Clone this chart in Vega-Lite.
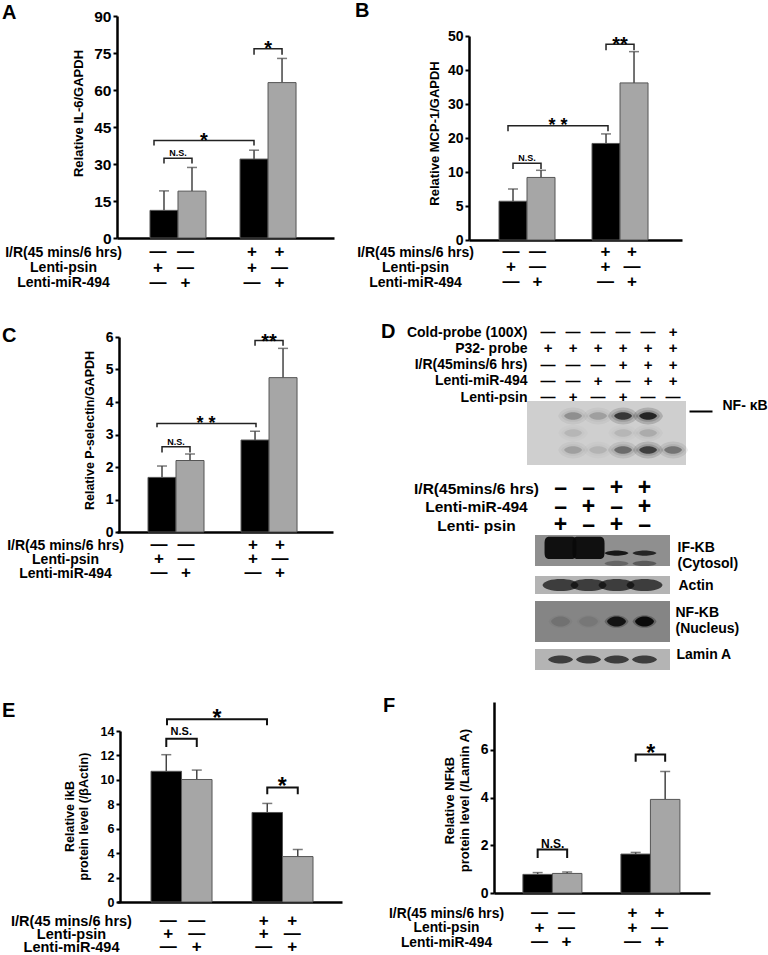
{"$schema":"https://vega.github.io/schema/vega-lite/v6.json","background":"white","padding":{"left":2,"top":0,"right":0,"bottom":0},"spacing":25,
"resolve":{"scale":{"xOffset":"independent","size":"independent","opacity":"independent","fillOpacity":"independent"}},
"config":{"view":{"stroke":null},"font":"Liberation Sans","axis":{"grid":false,"labelOverlap":false,"labelFont":"Liberation Sans","titleFont":"Liberation Sans","labelFontWeight":"bold","titleFontWeight":"bold","labelColor":"#000","titleColor":"#000","domainColor":"#000","tickColor":"#000"},"text":{"font":"Liberation Sans","fontWeight":"bold","color":"#000"},"title":{"font":"Liberation Sans","fontWeight":"bold","fontSize":20,"anchor":"start","frame":"group","offset":0,"color":"#000"}},
"datasets":{"signs":[
{"group":"no I/R","arm":"psin","row":"I/R(45 mins/6 hrs)","sign":"—"},{"group":"no I/R","arm":"psin","row":"Lenti-psin","sign":"+"},{"group":"no I/R","arm":"psin","row":"Lenti-miR-494","sign":"—"},
{"group":"no I/R","arm":"miR","row":"I/R(45 mins/6 hrs)","sign":"—"},{"group":"no I/R","arm":"miR","row":"Lenti-psin","sign":"—"},{"group":"no I/R","arm":"miR","row":"Lenti-miR-494","sign":"+"},
{"group":"I/R","arm":"psin","row":"I/R(45 mins/6 hrs)","sign":"+"},{"group":"I/R","arm":"psin","row":"Lenti-psin","sign":"+"},{"group":"I/R","arm":"psin","row":"Lenti-miR-494","sign":"—"},
{"group":"I/R","arm":"miR","row":"I/R(45 mins/6 hrs)","sign":"+"},{"group":"I/R","arm":"miR","row":"Lenti-psin","sign":"—"},{"group":"I/R","arm":"miR","row":"Lenti-miR-494","sign":"+"}]},
"vconcat":[
{"spacing":21,"resolve":{"scale":{"xOffset":"independent","size":"independent","opacity":"independent","fillOpacity":"independent"}},"hconcat":[
{"bounds":"flush","spacing":6.5,"resolve":{"scale":{"xOffset":"independent","size":"independent"}},"vconcat":[
{"width":217,"height":236,"title":{"text":"A","dx":-115,"dy":24.5},
"layer":[
{"encoding":{"x":{"field":"group","type":"nominal","scale":{"type":"band","domain":["no I/R","I/R"],"paddingInner":0.378,"paddingOuter":0.394,"align":0.465},"axis":{"labels":false,"ticks":false,"title":null,"domainWidth":2.5}},"xOffset":{"field":"arm","type":"nominal","scale":{"type":"band","domain":["psin","miR"],"paddingInner":0,"paddingOuter":0}}},
"layer":[
{"data":{"values":[{"group":"no I/R","arm":"psin","mean":11.2,"upper":19.1},{"group":"no I/R","arm":"miR","mean":19,"upper":28.6},{"group":"I/R","arm":"psin","mean":32,"upper":35.6},{"group":"I/R","arm":"miR","mean":63,"upper":72.8}]},
"layer":[
{"mark":{"type":"rule","color":"#444","strokeWidth":1.5},"encoding":{"y":{"field":"mean","type":"quantitative","scale":{"domain":[0,90],"range":[236,14]},"axis":{"values":[0,15,30,45,60,75,90],"tickCount":20,"format":"d","title":"Relative IL-6/GAPDH","titleFontSize":13,"titleX":-39,"titleY":111,"titleBaseline":"middle","labelFontSize":15.5,"domainWidth":2.5,"tickWidth":2,"tickSize":4,"labelPadding":2}},"y2":{"field":"upper"}}},
{"mark":{"type":"tick","orient":"horizontal","size":10,"thickness":1.5,"color":"#444"},"encoding":{"y":{"field":"upper","type":"quantitative"}}},
{"mark":{"type":"bar","stroke":"#555","strokeWidth":1},"encoding":{"y":{"field":"mean","type":"quantitative","stack":null},"color":{"field":"arm","type":"nominal","scale":{"domain":["psin","miR"],"range":["#000","#a6a6a6"]},"legend":null}}}]},
{"data":{"values":[{"id":"ns","group":"no I/R","arm":"psin","level":30.2,"step":1},{"id":"ns","group":"no I/R","arm":"psin","level":32.3,"step":2},{"id":"ns","group":"no I/R","arm":"miR","level":32.3,"step":3},{"id":"ns","group":"no I/R","arm":"miR","level":30.2,"step":4},{"id":"r","group":"I/R","arm":"psin","level":74.3,"step":1},{"id":"r","group":"I/R","arm":"psin","level":76.7,"step":2},{"id":"r","group":"I/R","arm":"miR","level":76.7,"step":3},{"id":"r","group":"I/R","arm":"miR","level":74.3,"step":4}]},
"mark":{"type":"line","color":"#222","strokeWidth":1.5},"encoding":{"y":{"field":"level","type":"quantitative"},"detail":{"field":"id"},"order":{"field":"step","type":"quantitative"}}},
{"data":{"values":[{"group":"no I/R","arm":"psin","level":34.5,"label":"N.S."},{"group":"I/R","arm":"psin","level":76.6,"label":"*"}]},
"mark":{"type":"text","dx":14,"baseline":"middle"},"encoding":{"y":{"field":"level","type":"quantitative"},"text":{"field":"label"},"size":{"field":"label","type":"ordinal","scale":{"type":"point","padding":0,"domain":["N.S.","*"],"range":[9,20]},"legend":null}}}]},
{"encoding":{"x":{"field":"group","type":"nominal","scale":{"type":"point","domain":["no I/R","I/R"],"padding":0,"range":[37,137]},"axis":null}},"layer":[
{"data":{"values":[{"group":"no I/R","level":37.5,"step":1},{"group":"no I/R","level":39.5,"step":2},{"group":"I/R","level":39.5,"step":3},{"group":"I/R","level":37.5,"step":4}]},"mark":{"type":"line","color":"#222","strokeWidth":1.5},"encoding":{"y":{"field":"level","type":"quantitative"},"order":{"field":"step","type":"quantitative"}}},
{"data":{"values":[{"group":"I/R","level":39.5,"label":"*"}]},"mark":{"type":"text","dx":-50,"fontSize":20,"baseline":"middle"},"encoding":{"y":{"field":"level","type":"quantitative"},"text":{"field":"label"}}}]}],
"resolve":{"scale":{"x":"independent"}}},
{"width":217,"height":46,"data":{"name":"signs"},"mark":{"type":"text","fontSize":17,"baseline":"middle"},"encoding":{"x":{"field":"group","type":"nominal","scale":{"type":"band","domain":["no I/R","I/R"],"paddingInner":0.415,"paddingOuter":0.362,"align":0.4},"axis":null},"xOffset":{"field":"arm","type":"nominal","scale":{"type":"band","domain":["psin","miR"],"paddingInner":0,"paddingOuter":0}},"y":{"field":"row","type":"nominal","scale":{"domain":["I/R(45 mins/6 hrs)","Lenti-psin","Lenti-miR-494"]},"axis":{"title":null,"domain":false,"ticks":false,"labelAlign":"center","labelPadding":54,"labelFontSize":14}},"text":{"field":"sign"}}}
]},
{"bounds":"flush","spacing":4.5,"resolve":{"scale":{"xOffset":"independent","size":"independent"}},"vconcat":[
{"width":213,"height":238,"title":{"text":"B","dx":-114,"dy":22.5},
"layer":[
{"encoding":{"x":{"field":"group","type":"nominal","scale":{"type":"band","domain":["no I/R","I/R"],"paddingInner":0.398,"paddingOuter":0.344,"align":0.469},"axis":{"labels":false,"ticks":false,"title":null,"domainWidth":2.5}},"xOffset":{"field":"arm","type":"nominal","scale":{"type":"band","domain":["psin","miR"],"paddingInner":0,"paddingOuter":0}}},
"layer":[
{"data":{"values":[{"group":"no I/R","arm":"psin","mean":5.7,"upper":7.5},{"group":"no I/R","arm":"miR","mean":9.2,"upper":10.5},{"group":"I/R","arm":"psin","mean":18.4,"upper":21.2},{"group":"I/R","arm":"miR","mean":36.2,"upper":45.4}]},
"layer":[
{"mark":{"type":"rule","color":"#444","strokeWidth":1.5},"encoding":{"y":{"field":"mean","type":"quantitative","scale":{"domain":[0,5,10,20,30,40,50],"range":[238,204,170,136,102,68,34]},"axis":{"values":[0,5,10,20,30,40,50],"tickCount":20,"format":"d","title":"Relative MCP-1/GAPDH","titleFontSize":13,"titleX":-35,"titleY":131,"titleBaseline":"middle","labelFontSize":14,"domainWidth":2.5,"tickWidth":2,"tickSize":4,"labelPadding":2}},"y2":{"field":"upper"}}},
{"mark":{"type":"tick","orient":"horizontal","size":10,"thickness":1.5,"color":"#444"},"encoding":{"y":{"field":"upper","type":"quantitative"}}},
{"mark":{"type":"bar","stroke":"#555","strokeWidth":1},"encoding":{"y":{"field":"mean","type":"quantitative","stack":null},"color":{"field":"arm","type":"nominal","scale":{"domain":["psin","miR"],"range":["#000","#a6a6a6"]},"legend":null}}}]},
{"data":{"values":[{"id":"ns","group":"no I/R","arm":"psin","level":10.9,"step":1},{"id":"ns","group":"no I/R","arm":"psin","level":12.6,"step":2},{"id":"ns","group":"no I/R","arm":"miR","level":12.6,"step":3},{"id":"ns","group":"no I/R","arm":"miR","level":10.9,"step":4},{"id":"r","group":"I/R","arm":"psin","level":45.8,"step":1},{"id":"r","group":"I/R","arm":"psin","level":47.6,"step":2},{"id":"r","group":"I/R","arm":"miR","level":47.6,"step":3},{"id":"r","group":"I/R","arm":"miR","level":45.8,"step":4}]},
"mark":{"type":"line","color":"#222","strokeWidth":1.5},"encoding":{"y":{"field":"level","type":"quantitative"},"detail":{"field":"id"},"order":{"field":"step","type":"quantitative"}}},
{"data":{"values":[{"group":"no I/R","arm":"psin","level":14.1,"label":"N.S."},{"group":"I/R","arm":"psin","level":47.5,"label":"**"}]},
"mark":{"type":"text","dx":14,"baseline":"middle"},"encoding":{"y":{"field":"level","type":"quantitative"},"text":{"field":"label"},"size":{"field":"label","type":"ordinal","scale":{"type":"point","padding":0,"domain":["N.S.","**"],"range":[9,20]},"legend":null}}}]},
{"encoding":{"x":{"field":"group","type":"nominal","scale":{"type":"point","domain":["no I/R","I/R"],"padding":0,"range":[39,139]},"axis":null}},"layer":[
{"data":{"values":[{"group":"no I/R","level":22,"step":1},{"group":"no I/R","level":23.6,"step":2},{"group":"I/R","level":23.6,"step":3},{"group":"I/R","level":22,"step":4}]},"mark":{"type":"line","color":"#222","strokeWidth":1.5},"encoding":{"y":{"field":"level","type":"quantitative"},"order":{"field":"step","type":"quantitative"}}},
{"data":{"values":[{"group":"I/R","level":23.5,"label":"* *"}]},"mark":{"type":"text","dx":-50,"fontSize":18,"baseline":"middle"},"encoding":{"y":{"field":"level","type":"quantitative"},"text":{"field":"label"}}}]}],
"resolve":{"scale":{"x":"independent"}}},
{"width":213,"height":45,"data":{"name":"signs"},"mark":{"type":"text","fontSize":17,"baseline":"middle"},"encoding":{"x":{"field":"group","type":"nominal","scale":{"type":"band","domain":["no I/R","I/R"],"paddingInner":0.439,"paddingOuter":0.347,"align":0.439},"axis":null},"xOffset":{"field":"arm","type":"nominal","scale":{"type":"band","domain":["psin","miR"],"paddingInner":0,"paddingOuter":0}},"y":{"field":"row","type":"nominal","scale":{"domain":["I/R(45 mins/6 hrs)","Lenti-psin","Lenti-miR-494"]},"axis":{"title":null,"domain":false,"ticks":false,"labelAlign":"center","labelPadding":54,"labelFontSize":14}},"text":{"field":"sign"}}}
]}
]},
{"spacing":48,"resolve":{"scale":{"xOffset":"independent","size":"independent","opacity":"independent","fillOpacity":"independent"}},"hconcat":[
{"bounds":"flush","spacing":6,"resolve":{"scale":{"xOffset":"independent","size":"independent"}},"vconcat":[
{"width":216,"height":216,"title":{"text":"C","dx":-115,"dy":33.5},
"layer":[
{"encoding":{"x":{"field":"group","type":"nominal","scale":{"type":"band","domain":["no I/R","I/R"],"paddingInner":0.398,"paddingOuter":0.36,"align":0.463},"axis":{"labels":false,"ticks":false,"title":null,"domainWidth":2.5}},"xOffset":{"field":"arm","type":"nominal","scale":{"type":"band","domain":["psin","miR"],"paddingInner":0,"paddingOuter":0}}},
"layer":[
{"data":{"values":[{"group":"no I/R","arm":"psin","mean":1.68,"upper":2.03},{"group":"no I/R","arm":"miR","mean":2.2,"upper":2.4},{"group":"I/R","arm":"psin","mean":2.83,"upper":3.1},{"group":"I/R","arm":"miR","mean":4.75,"upper":5.65}]},
"layer":[
{"mark":{"type":"rule","color":"#444","strokeWidth":1.5},"encoding":{"y":{"field":"mean","type":"quantitative","scale":{"domain":[0,6],"range":[216,21]},"axis":{"values":[0,1,2,3,4,5,6],"tickCount":20,"format":"d","offset":-2,"title":"Relative P-selectin/GAPDH","titleFontSize":12.5,"titleX":-30,"titleY":114,"titleBaseline":"middle","labelFontSize":14,"domainWidth":2.5,"tickWidth":2,"tickSize":4,"labelPadding":2}},"y2":{"field":"upper"}}},
{"mark":{"type":"tick","orient":"horizontal","size":10,"thickness":1.5,"color":"#444"},"encoding":{"y":{"field":"upper","type":"quantitative"}}},
{"mark":{"type":"bar","stroke":"#555","strokeWidth":1},"encoding":{"y":{"field":"mean","type":"quantitative","stack":null},"color":{"field":"arm","type":"nominal","scale":{"domain":["psin","miR"],"range":["#000","#a6a6a6"]},"legend":null}}}]},
{"data":{"values":[{"id":"ns","group":"no I/R","arm":"psin","level":2.45,"step":1},{"id":"ns","group":"no I/R","arm":"psin","level":2.62,"step":2},{"id":"ns","group":"no I/R","arm":"miR","level":2.62,"step":3},{"id":"ns","group":"no I/R","arm":"miR","level":2.45,"step":4},{"id":"r","group":"I/R","arm":"psin","level":5.73,"step":1},{"id":"r","group":"I/R","arm":"psin","level":5.89,"step":2},{"id":"r","group":"I/R","arm":"miR","level":5.89,"step":3},{"id":"r","group":"I/R","arm":"miR","level":5.73,"step":4}]},
"mark":{"type":"line","color":"#222","strokeWidth":1.5},"encoding":{"y":{"field":"level","type":"quantitative"},"detail":{"field":"id"},"order":{"field":"step","type":"quantitative"}}},
{"data":{"values":[{"group":"no I/R","arm":"psin","level":2.76,"label":"N.S."},{"group":"I/R","arm":"psin","level":5.85,"label":"**"}]},
"mark":{"type":"text","dx":14,"baseline":"middle"},"encoding":{"y":{"field":"level","type":"quantitative"},"text":{"field":"label"},"size":{"field":"label","type":"ordinal","scale":{"type":"point","padding":0,"domain":["N.S.","**"],"range":[9,20]},"legend":null}}}]},
{"encoding":{"x":{"field":"group","type":"nominal","scale":{"type":"point","domain":["no I/R","I/R"],"padding":0,"range":[40,139]},"axis":null}},"layer":[
{"data":{"values":[{"group":"no I/R","level":3.22,"step":1},{"group":"no I/R","level":3.34,"step":2},{"group":"I/R","level":3.34,"step":3},{"group":"I/R","level":3.22,"step":4}]},"mark":{"type":"line","color":"#222","strokeWidth":1.5},"encoding":{"y":{"field":"level","type":"quantitative"},"order":{"field":"step","type":"quantitative"}}},
{"data":{"values":[{"group":"I/R","level":3.32,"label":"* *"}]},"mark":{"type":"text","dx":-50,"fontSize":18,"baseline":"middle"},"encoding":{"y":{"field":"level","type":"quantitative"},"text":{"field":"label"}}}]}],
"resolve":{"scale":{"x":"independent"}}},
{"width":216,"height":42,"data":{"name":"signs"},"mark":{"type":"text","fontSize":17,"baseline":"middle"},"encoding":{"x":{"field":"group","type":"nominal","scale":{"type":"band","domain":["no I/R","I/R"],"paddingInner":0.426,"paddingOuter":0.362,"align":0.419},"axis":null},"xOffset":{"field":"arm","type":"nominal","scale":{"type":"band","domain":["psin","miR"],"paddingInner":0,"paddingOuter":0}},"y":{"field":"row","type":"nominal","scale":{"domain":["I/R(45 mins/6 hrs)","Lenti-psin","Lenti-miR-494"]},"axis":{"title":null,"domain":false,"ticks":false,"labelAlign":"center","labelPadding":52,"labelFontSize":14}},"text":{"field":"sign"}}}
]},
{"bounds":"flush","spacing":3,"resolve":{"scale":{"opacity":"independent","fillOpacity":"independent"}},"vconcat":[
{"width":159,"height":82,"title":{"text":"D","dx":-146,"dy":29.5},"data":{"values":[
{"lane":1,"row":"Cold-probe (100X)","sign":"—"},{"lane":2,"row":"Cold-probe (100X)","sign":"—"},{"lane":3,"row":"Cold-probe (100X)","sign":"—"},{"lane":4,"row":"Cold-probe (100X)","sign":"—"},{"lane":5,"row":"Cold-probe (100X)","sign":"—"},{"lane":6,"row":"Cold-probe (100X)","sign":"+"},
{"lane":1,"row":"P32- probe","sign":"+"},{"lane":2,"row":"P32- probe","sign":"+"},{"lane":3,"row":"P32- probe","sign":"+"},{"lane":4,"row":"P32- probe","sign":"+"},{"lane":5,"row":"P32- probe","sign":"+"},{"lane":6,"row":"P32- probe","sign":"+"},
{"lane":1,"row":"I/R(45mins/6 hrs)","sign":"—"},{"lane":2,"row":"I/R(45mins/6 hrs)","sign":"—"},{"lane":3,"row":"I/R(45mins/6 hrs)","sign":"—"},{"lane":4,"row":"I/R(45mins/6 hrs)","sign":"+"},{"lane":5,"row":"I/R(45mins/6 hrs)","sign":"+"},{"lane":6,"row":"I/R(45mins/6 hrs)","sign":"+"},
{"lane":1,"row":"Lenti-miR-494","sign":"—"},{"lane":2,"row":"Lenti-miR-494","sign":"—"},{"lane":3,"row":"Lenti-miR-494","sign":"+"},{"lane":4,"row":"Lenti-miR-494","sign":"—"},{"lane":5,"row":"Lenti-miR-494","sign":"+"},{"lane":6,"row":"Lenti-miR-494","sign":"+"},
{"lane":1,"row":"Lenti-psin","sign":"—"},{"lane":2,"row":"Lenti-psin","sign":"+"},{"lane":3,"row":"Lenti-psin","sign":"—"},{"lane":4,"row":"Lenti-psin","sign":"+"},{"lane":5,"row":"Lenti-psin","sign":"—"},{"lane":6,"row":"Lenti-psin","sign":"—"}]},
"mark":{"type":"text","fontSize":15,"baseline":"middle"},"encoding":{"x":{"field":"lane","type":"ordinal","scale":{"type":"band","domain":[1,2,3,4,5,6],"paddingOuter":0.18,"paddingInner":0,"align":0.95},"axis":null},"y":{"field":"row","type":"nominal","scale":{"type":"point","padding":0,"domain":["Cold-probe (100X)","P32- probe","I/R(45mins/6 hrs)","Lenti-miR-494","Lenti-psin"],"range":[16,81]},"axis":{"title":null,"domain":false,"ticks":false,"labelPadding":0,"labelFontSize":14,"tickCount":20}},"text":{"field":"sign"}}},
{"width":159,"height":64,
"layer":[
{"data":{"values":[{"from":0,"to":1}]},"mark":{"type":"rect","color":"#cfcfcf"},"encoding":{"x":{"field":"from","type":"quantitative","scale":{"domain":[0,1],"range":[0,159]},"axis":null},"x2":{"field":"to"}}},
{"data":{"values":[{"lane":2,"row":"upper","strength":0.3},{"lane":3,"row":"upper","strength":0.22},{"lane":4,"row":"upper","strength":0.85},{"lane":5,"row":"upper","strength":1},{"lane":2,"row":"mid","strength":0.1},{"lane":4,"row":"mid","strength":0.1},{"lane":5,"row":"mid","strength":0.15},{"lane":2,"row":"lower","strength":0.22},{"lane":3,"row":"lower","strength":0.12},{"lane":4,"row":"lower","strength":0.5},{"lane":5,"row":"lower","strength":0.8},{"lane":6,"row":"lower","strength":0.45}]},
"encoding":{"x":{"field":"lane","type":"ordinal","scale":{"type":"band","domain":[1,2,3,4,5,6],"paddingOuter":0.18,"paddingInner":0,"align":0.95},"axis":null},"y":{"field":"row","type":"nominal","scale":{"type":"band","domain":["upper","mid","lower"],"paddingInner":0,"paddingOuter":0.38},"axis":{"values":["upper"],"title":null,"domain":false,"tickSize":23,"tickWidth":2,"tickOffset":-5,"labelOffset":-5,"offset":3,"orient":"right","labelExpr":"'NF- κB'","labelPadding":10,"labelFontSize":14}}},
"layer":[
{"mark":{"type":"point","filled":true,"color":"#111","strokeWidth":0,"size":900,"shape":"M-1,0C-.7,-.75 .7,-.75 1,0C.7,.75 -.7,.75 -1,0Z"},"encoding":{"fillOpacity":{"field":"strength","type":"quantitative","scale":{"domain":[0,1],"range":[0,0.25]},"legend":null}}},
{"mark":{"type":"point","filled":true,"color":"#111","strokeWidth":0,"size":576,"shape":"M-1,0C-.7,-.65 .7,-.65 1,0C.7,.65 -.7,.65 -1,0Z"},"encoding":{"fillOpacity":{"field":"strength","type":"quantitative","scale":{"domain":[0,1],"range":[0,0.25]},"legend":null}}},
{"mark":{"type":"point","filled":true,"color":"#111","strokeWidth":0,"size":324,"shape":"M-1,0C-.7,-.55 .7,-.55 1,0C.7,.55 -.7,.55 -1,0Z"},"encoding":{"opacity":{"field":"strength","type":"quantitative","scale":{"domain":[0,1],"range":[0,0.85]},"legend":null}}}]}],
"resolve":{"scale":{"x":"independent"}}},
{"width":143,"height":64,"data":{"values":[
{"lane":1,"row":"I/R(45mins/6 hrs)","sign":"–"},{"lane":2,"row":"I/R(45mins/6 hrs)","sign":"–"},{"lane":3,"row":"I/R(45mins/6 hrs)","sign":"+"},{"lane":4,"row":"I/R(45mins/6 hrs)","sign":"+"},
{"lane":1,"row":"Lenti-miR-494","sign":"–"},{"lane":2,"row":"Lenti-miR-494","sign":"+"},{"lane":3,"row":"Lenti-miR-494","sign":"–"},{"lane":4,"row":"Lenti-miR-494","sign":"+"},
{"lane":1,"row":"Lenti- psin","sign":"+"},{"lane":2,"row":"Lenti- psin","sign":"–"},{"lane":3,"row":"Lenti- psin","sign":"+"},{"lane":4,"row":"Lenti- psin","sign":"–"}]},
"mark":{"type":"text","fontSize":23,"baseline":"middle"},"encoding":{"x":{"field":"lane","type":"ordinal","scale":{"type":"band","domain":[1,2,3,4],"paddingOuter":0.554,"paddingInner":0,"align":0.63},"axis":null},"y":{"field":"row","type":"nominal","scale":{"type":"point","padding":0,"domain":["I/R(45mins/6 hrs)","Lenti-miR-494","Lenti- psin"],"range":[20,57]},"axis":{"title":null,"domain":false,"ticks":false,"labelAlign":"center","labelPadding":51,"labelFontSize":15.5}},"text":{"field":"sign"}}},
{"width":143,"height":31,
"layer":[
{"data":{"values":[{"from":0,"to":1}]},"mark":{"type":"rect","color":"#8f8f8f"},"encoding":{"x":{"field":"from","type":"quantitative","scale":{"domain":[0,1],"range":[8,143]},"axis":null},"x2":{"field":"to"}}},
{"encoding":{"x":{"field":"lane","type":"ordinal","scale":{"type":"band","domain":[1,2,3,4],"paddingOuter":0.554,"paddingInner":0,"align":0.63},"axis":null},"y":{"field":"row","type":"nominal","scale":{"type":"band","domain":["r1","r2","r3","r4","r5","r6"],"paddingInner":0,"paddingOuter":0},"axis":{"orient":"right","title":["IF-KB","(Cytosol)"],"titleAngle":0,"titleAlign":"left","titleBaseline":"middle","titleX":7,"titleY":12,"titleFontSize":14,"labels":false,"ticks":false,"domain":false}}},
"layer":[
{"data":{"values":[{"lane":1,"row":"r3","strength":1},{"lane":2,"row":"r3","strength":1}]},"mark":{"type":"point","filled":true,"color":"#0a0a0a","strokeWidth":0,"size":1024,"shape":"M-1,-.3C-1,-.7 -.8,-.7 -.6,-.7L.6,-.7C.8,-.7 1,-.7 1,-.3L1,.3C1,.7 .8,.7 .6,.7L-.6,.7C-.8,.7 -1,.7 -1,.3Z","opacity":0.95}},
{"data":{"values":[{"lane":3,"row":"r4","strength":0.9},{"lane":4,"row":"r4","strength":0.8},{"lane":3,"row":"r6","strength":0.3},{"lane":4,"row":"r6","strength":0.4}]},"mark":{"type":"point","filled":true,"color":"#0a0a0a","strokeWidth":0,"size":576,"shape":"M-1,0C-.7,-.3 .7,-.3 1,0C.7,.3 -.7,.3 -1,0Z"},"encoding":{"opacity":{"field":"strength","type":"quantitative","scale":{"domain":[0,1],"range":[0,1]},"legend":null}}}]}],
"resolve":{"scale":{"x":"independent"}}},
{"width":10,"height":4,"data":{"values":[]},"mark":{"type":"text"},"encoding":{}},
{"width":143,"height":18,
"layer":[
{"data":{"values":[{"from":0,"to":1}]},"mark":{"type":"rect","color":"#b4b4b4"},"encoding":{"x":{"field":"from","type":"quantitative","scale":{"domain":[0,1],"range":[8,143]},"axis":null},"x2":{"field":"to"}}},
{"data":{"values":[{"lane":1,"row":"band"},{"lane":2,"row":"band"},{"lane":3,"row":"band"},{"lane":4,"row":"band"}]},"mark":{"type":"point","filled":true,"color":"#0a0a0a","strokeWidth":0,"size":1300,"shape":"M-1,0C-.9,-.45 .9,-.45 1,0C.9,.45 -.9,.45 -1,0Z"},"encoding":{"x":{"field":"lane","type":"ordinal","scale":{"type":"band","domain":[1,2,3,4],"paddingOuter":0.554,"paddingInner":0,"align":0.63},"axis":null},"y":{"field":"row","type":"nominal","scale":{"type":"band","domain":["band"]},"axis":{"orient":"right","title":"Actin","titleAngle":0,"titleAlign":"left","titleBaseline":"middle","titleX":8,"titleY":9,"titleFontSize":14,"labels":false,"ticks":false,"domain":false}}}}],
"resolve":{"scale":{"x":"independent"}}},
{"width":10,"height":1,"data":{"values":[]},"mark":{"type":"text"},"encoding":{}},
{"width":143,"height":41,
"layer":[
{"data":{"values":[{"from":0,"to":1}]},"mark":{"type":"rect","color":"#858585"},"encoding":{"x":{"field":"from","type":"quantitative","scale":{"domain":[0,1],"range":[8,143]},"axis":null},"x2":{"field":"to"}}},
{"data":{"values":[{"lane":1,"row":"band","strength":0.12},{"lane":2,"row":"band","strength":0.08},{"lane":3,"row":"band","strength":0.9},{"lane":4,"row":"band","strength":1}]},
"encoding":{"x":{"field":"lane","type":"ordinal","scale":{"type":"band","domain":[1,2,3,4],"paddingOuter":0.554,"paddingInner":0,"align":0.63},"axis":null},"y":{"field":"row","type":"nominal","scale":{"type":"band","domain":["band"]},"axis":{"orient":"right","title":["NF-KB","(Nucleus)"],"titleAngle":0,"titleAlign":"left","titleBaseline":"middle","titleX":5,"titleY":11,"titleFontSize":14,"labels":false,"ticks":false,"domain":false}}},
"layer":[
{"mark":{"type":"point","filled":true,"color":"#0a0a0a","strokeWidth":0,"size":576,"shape":"M-1,0C-.7,-.7 .7,-.7 1,0C.7,.7 -.7,.7 -1,0Z"},"encoding":{"fillOpacity":{"field":"strength","type":"quantitative","scale":{"domain":[0,1],"range":[0,0.4]},"legend":null}}},
{"mark":{"type":"point","filled":true,"color":"#0a0a0a","strokeWidth":0,"size":361,"shape":"M-1,0C-.7,-.7 .7,-.7 1,0C.7,.7 -.7,.7 -1,0Z"},"encoding":{"opacity":{"field":"strength","type":"quantitative","scale":{"domain":[0,1],"range":[0,1]},"legend":null}}}]}],
"resolve":{"scale":{"x":"independent"}}},
{"width":10,"height":1,"data":{"values":[]},"mark":{"type":"text"},"encoding":{}},
{"width":143,"height":21,
"layer":[
{"data":{"values":[{"from":0,"to":1}]},"mark":{"type":"rect","color":"#b4b4b4"},"encoding":{"x":{"field":"from","type":"quantitative","scale":{"domain":[0,1],"range":[8,143]},"axis":null},"x2":{"field":"to"}}},
{"data":{"values":[{"lane":1,"row":"band"},{"lane":2,"row":"band"},{"lane":3,"row":"band"},{"lane":4,"row":"band"}]},"mark":{"type":"point","filled":true,"color":"#0a0a0a","strokeWidth":0,"size":625,"shape":"M-1,0C-.7,-.43 .7,-.43 1,0C.7,.43 -.7,.43 -1,0Z"},"encoding":{"x":{"field":"lane","type":"ordinal","scale":{"type":"band","domain":[1,2,3,4],"paddingOuter":0.554,"paddingInner":0,"align":0.63},"axis":null},"y":{"field":"row","type":"nominal","scale":{"type":"band","domain":["band"]},"axis":{"orient":"right","title":"Lamin A","titleAngle":0,"titleAlign":"left","titleBaseline":"middle","titleX":6,"titleY":5,"titleFontSize":14,"labels":false,"ticks":false,"domain":false}}}}],
"resolve":{"scale":{"x":"independent"}}}
]}
]},
{"spacing":41,"resolve":{"scale":{"xOffset":"independent","size":"independent","opacity":"independent","fillOpacity":"independent"}},"hconcat":[
{"bounds":"flush","spacing":12.5,"resolve":{"scale":{"xOffset":"independent","size":"independent"}},"vconcat":[
{"width":225,"height":204,"title":{"text":"E","dx":-115,"dy":26.5},
"layer":[
{"encoding":{"x":{"field":"group","type":"nominal","scale":{"type":"band","domain":["no I/R","I/R"],"paddingInner":0.396,"paddingOuter":0.312,"align":0.54},"axis":{"labels":false,"ticks":false,"title":null,"domainWidth":2.5}},"xOffset":{"field":"arm","type":"nominal","scale":{"type":"band","domain":["psin","miR"],"paddingInner":0,"paddingOuter":0}}},
"layer":[
{"data":{"values":[{"group":"no I/R","arm":"psin","mean":10.7,"upper":12.06},{"group":"no I/R","arm":"miR","mean":10.03,"upper":10.8},{"group":"I/R","arm":"psin","mean":7.33,"upper":8.07},{"group":"I/R","arm":"miR","mean":3.72,"upper":4.3}]},
"layer":[
{"mark":{"type":"rule","color":"#444","strokeWidth":1.5},"encoding":{"y":{"field":"mean","type":"quantitative","scale":{"domain":[0,14],"range":[204,33]},"axis":{"values":[0,2,4,6,8,10,12,14],"tickCount":20,"format":"d","offset":-3,"title":["Relative ikB","protein level (/βActin)"],"titleFontSize":12.5,"titleX":-51,"titleY":118,"titleBaseline":"middle","labelFontSize":12.5,"domainWidth":2.5,"tickWidth":2,"tickSize":4,"labelPadding":2}},"y2":{"field":"upper"}}},
{"mark":{"type":"tick","orient":"horizontal","size":10,"thickness":1.5,"color":"#444"},"encoding":{"y":{"field":"upper","type":"quantitative"}}},
{"mark":{"type":"bar","stroke":"#555","strokeWidth":1},"encoding":{"y":{"field":"mean","type":"quantitative","stack":null},"color":{"field":"arm","type":"nominal","scale":{"domain":["psin","miR"],"range":["#000","#a6a6a6"]},"legend":null}}}]},
{"data":{"values":[{"id":"ns","group":"no I/R","arm":"psin","level":12.7,"step":1},{"id":"ns","group":"no I/R","arm":"psin","level":13.37,"step":2},{"id":"ns","group":"no I/R","arm":"miR","level":13.37,"step":3},{"id":"ns","group":"no I/R","arm":"miR","level":12.7,"step":4},{"id":"r","group":"I/R","arm":"psin","level":8.83,"step":1},{"id":"r","group":"I/R","arm":"psin","level":9.38,"step":2},{"id":"r","group":"I/R","arm":"miR","level":9.38,"step":3},{"id":"r","group":"I/R","arm":"miR","level":8.83,"step":4}]},
"mark":{"type":"line","color":"#111","strokeWidth":2},"encoding":{"y":{"field":"level","type":"quantitative"},"detail":{"field":"id"},"order":{"field":"step","type":"quantitative"}}},
{"data":{"values":[{"group":"no I/R","arm":"psin","level":13.9,"label":"N.S."},{"group":"I/R","arm":"psin","level":9.45,"label":"*"}]},
"mark":{"type":"text","dx":15,"baseline":"middle"},"encoding":{"y":{"field":"level","type":"quantitative"},"text":{"field":"label"},"size":{"field":"label","type":"ordinal","scale":{"type":"point","padding":0,"domain":["N.S.","*"],"range":[11,23]},"legend":null}}}]},
{"encoding":{"x":{"field":"group","type":"nominal","scale":{"type":"point","domain":["no I/R","I/R"],"padding":0,"range":[50,150]},"axis":null}},"layer":[
{"data":{"values":[{"group":"no I/R","level":14.47,"step":1},{"group":"no I/R","level":14.96,"step":2},{"group":"I/R","level":14.96,"step":3},{"group":"I/R","level":14.47,"step":4}]},"mark":{"type":"line","color":"#111","strokeWidth":2},"encoding":{"y":{"field":"level","type":"quantitative"},"order":{"field":"step","type":"quantitative"}}},
{"data":{"values":[{"group":"I/R","level":15.0,"label":"*"}]},"mark":{"type":"text","dx":-50,"fontSize":23,"baseline":"middle"},"encoding":{"y":{"field":"level","type":"quantitative"},"text":{"field":"label"}}}]}],
"resolve":{"scale":{"x":"independent"}}},
{"width":225,"height":39,"data":{"name":"signs"},"mark":{"type":"text","fontSize":17,"baseline":"middle"},"encoding":{"x":{"field":"group","type":"nominal","scale":{"type":"band","domain":["no I/R","I/R"],"paddingInner":0.403,"paddingOuter":0.38,"align":0.51},"axis":null},"xOffset":{"field":"arm","type":"nominal","scale":{"type":"band","domain":["psin","miR"],"paddingInner":0,"paddingOuter":0}},"y":{"field":"row","type":"nominal","scale":{"domain":["I/R(45 mins/6 hrs)","Lenti-psin","Lenti-miR-494"]},"axis":{"title":null,"domain":false,"ticks":false,"labelAlign":"center","labelPadding":46,"labelFontSize":14.5}},"text":{"field":"sign"}}}
]},
{"bounds":"flush","spacing":12.75,"resolve":{"scale":{"xOffset":"independent","size":"independent"}},"vconcat":[
{"width":216,"height":195,"title":{"text":"F","dx":-111,"dy":21.5},
"encoding":{"x":{"field":"group","type":"nominal","scale":{"type":"band","domain":["no I/R","I/R"],"paddingInner":0.398,"paddingOuter":0.301,"align":0.49},"axis":{"labels":false,"ticks":false,"title":null,"domainWidth":2.5}},"xOffset":{"field":"arm","type":"nominal","scale":{"type":"band","domain":["psin","miR"],"paddingInner":0,"paddingOuter":0}}},
"layer":[
{"data":{"values":[{"group":"no I/R","arm":"psin","mean":0.78,"upper":0.855},{"group":"no I/R","arm":"miR","mean":0.82,"upper":0.88},{"group":"I/R","arm":"psin","mean":1.63,"upper":1.7},{"group":"I/R","arm":"miR","mean":3.92,"upper":5.09}]},
"layer":[
{"mark":{"type":"rule","color":"#444","strokeWidth":1.5},"encoding":{"y":{"field":"mean","type":"quantitative","scale":{"domain":[0,7.5],"range":[195,4]},"axis":{"values":[0,2,4,6],"tickCount":20,"format":"d","title":["Relative NFkB","protein level (/Lamin A)"],"titleFontSize":13,"titleX":-45,"titleY":102,"titleBaseline":"middle","labelFontSize":14,"domainWidth":2.5,"tickWidth":2,"tickSize":4,"labelPadding":2}},"y2":{"field":"upper"}}},
{"mark":{"type":"tick","orient":"horizontal","size":10,"thickness":1.5,"color":"#444"},"encoding":{"y":{"field":"upper","type":"quantitative"}}},
{"mark":{"type":"bar","stroke":"#555","strokeWidth":1},"encoding":{"y":{"field":"mean","type":"quantitative","stack":null},"color":{"field":"arm","type":"nominal","scale":{"domain":["psin","miR"],"range":["#000","#a6a6a6"]},"legend":null}}}]},
{"data":{"values":[{"id":"ns","group":"no I/R","arm":"psin","level":1.47,"step":1},{"id":"ns","group":"no I/R","arm":"psin","level":1.82,"step":2},{"id":"ns","group":"no I/R","arm":"miR","level":1.82,"step":3},{"id":"ns","group":"no I/R","arm":"miR","level":1.47,"step":4},{"id":"r","group":"I/R","arm":"psin","level":5.5,"step":1},{"id":"r","group":"I/R","arm":"psin","level":5.8,"step":2},{"id":"r","group":"I/R","arm":"miR","level":5.8,"step":3},{"id":"r","group":"I/R","arm":"miR","level":5.5,"step":4}]},
"mark":{"type":"line","color":"#111","strokeWidth":2},"encoding":{"y":{"field":"level","type":"quantitative"},"detail":{"field":"id"},"order":{"field":"step","type":"quantitative"}}},
{"data":{"values":[{"group":"no I/R","arm":"psin","level":2.07,"label":"N.S."},{"group":"I/R","arm":"psin","level":5.82,"label":"*"}]},
"mark":{"type":"text","dx":15,"baseline":"middle"},"encoding":{"y":{"field":"level","type":"quantitative"},"text":{"field":"label"},"size":{"field":"label","type":"ordinal","scale":{"type":"point","padding":0,"domain":["N.S.","*"],"range":[12,23]},"legend":null}}}]},
{"width":216,"height":43.5,"data":{"name":"signs"},"mark":{"type":"text","fontSize":17,"baseline":"middle"},"encoding":{"x":{"field":"group","type":"nominal","scale":{"type":"band","domain":["no I/R","I/R"],"paddingInner":0.419,"paddingOuter":0.371,"align":0.464},"axis":null},"xOffset":{"field":"arm","type":"nominal","scale":{"type":"band","domain":["psin","miR"],"paddingInner":0,"paddingOuter":0}},"y":{"field":"row","type":"nominal","scale":{"domain":["I/R(45 mins/6 hrs)","Lenti-psin","Lenti-miR-494"]},"axis":{"title":null,"domain":false,"ticks":false,"labelAlign":"center","labelPadding":48,"labelFontSize":13.8}},"text":{"field":"sign"}}}
]}
]}
]}
